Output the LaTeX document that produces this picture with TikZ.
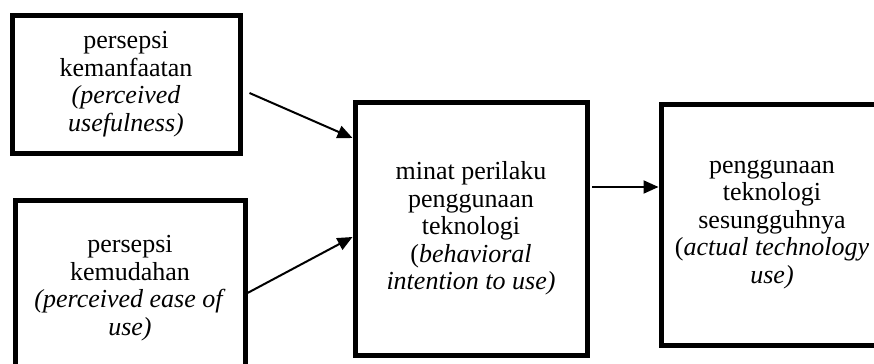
\documentclass[tikz,border=0pt]{standalone}
\usepackage{fontspec}
\setmainfont{Liberation Serif}
\usetikzlibrary{arrows.meta}
\usetikzlibrary{calc}
\tikzstyle{box}=[draw,rectangle,line width=2.5pt,align=center,inner sep=0pt,font=\fontsize{13}{13.75}\selectfont]
\tikzstyle{arr}=[draw,line width=1pt,-{Triangle[length=7.5pt,width=6.5pt]}]

\begin{document}
\begin{tikzpicture}[x=0.5pt,y=-0.5pt]

  \useasboundingbox (0,0) rectangle (874,364);
  \clip (0,0) rectangle (874,364);

  % the two perceptions
  \node[box,minimum width=114pt,minimum height=69pt] (pu) at (126,84)
       {persepsi\\kemanfaatan\\\textit{(perceived}\\\textit{usefulness)}};
  \node[box,minimum width=115pt,minimum height=88pt] (pe) at (130,288)
       {persepsi\\kemudahan\\\textit{(perceived ease of}\\\textit{use)}};

  % intention and actual use
  \node[box,minimum width=116pt,minimum height=126.5pt] (bi) at (471,228.5)
       {minat perilaku\\penggunaan\\teknologi\\(\textit{behavioral}\\\textit{intention to use)}};
  \node[box,minimum width=111pt,minimum height=120.5pt] (au) at (772,224.5)
       {penggunaan\\teknologi\\sesungguhnya\\(\textit{actual technology}\\\textit{use)}};

  \coordinate (c1) at ([shift={(7,9)}]pu.east);
  \coordinate (c2) at ([shift={(0,5)}]pe.east);
  \coordinate (c3) at ([shift={(2.5,-41.5)}]bi.east);

  \draw[arr] (c1) -- ([shift={(0,-90.5)}]bi.west);
  \draw[arr] (c2) -- ([shift={(0,8.5)}]bi.west);
  \draw[arr] (c3) -- (c3 -| au.west);

\end{tikzpicture}
\end{document}
